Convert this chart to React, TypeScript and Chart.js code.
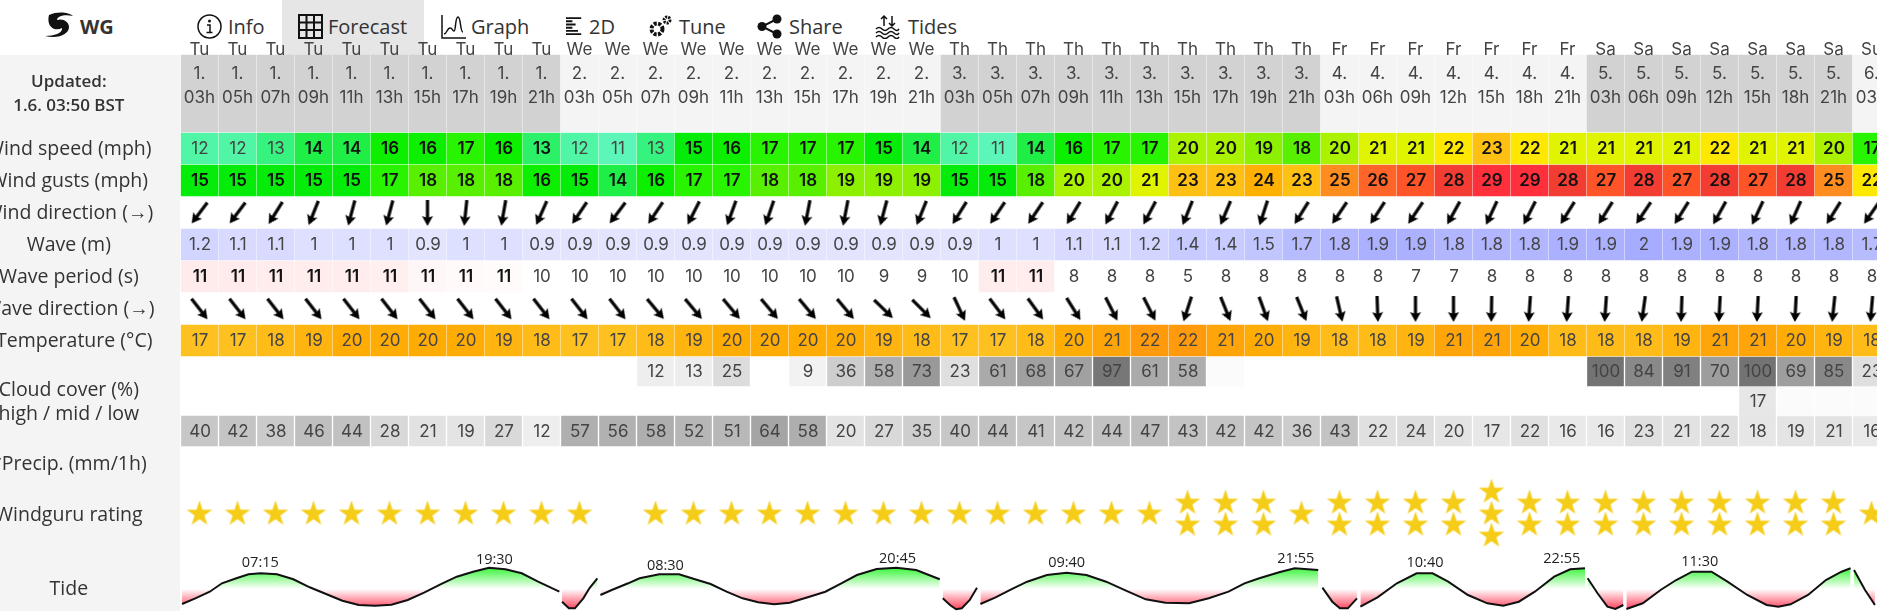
import React, { useEffect, useRef } from "react";
import { Chart, registerables } from "chart.js";

Chart.register(...registerables);

const days = ["Tu","Tu","Tu","Tu","Tu","Tu","Tu","Tu","Tu","Tu","We","We","We","We","We","We","We","We","We","We","Th","Th","Th","Th","Th","Th","Th","Th","Th","Th","Fr","Fr","Fr","Fr","Fr","Fr","Fr","Sa","Sa","Sa","Sa","Sa","Sa","Sa","Su"];
const dates = ["1.","1.","1.","1.","1.","1.","1.","1.","1.","1.","2.","2.","2.","2.","2.","2.","2.","2.","2.","2.","3.","3.","3.","3.","3.","3.","3.","3.","3.","3.","4.","4.","4.","4.","4.","4.","4.","5.","5.","5.","5.","5.","5.","5.","6."];
const hours = ["03h","05h","07h","09h","11h","13h","15h","17h","19h","21h","03h","05h","07h","09h","11h","13h","15h","17h","19h","21h","03h","05h","07h","09h","11h","13h","15h","17h","19h","21h","03h","06h","09h","12h","15h","18h","21h","03h","06h","09h","12h","15h","18h","21h","03h"];

const windSpeed = [12,12,13,14,14,16,16,17,16,13.4,12,11,13,15,16,17,17,17,15,14,12,11,14,16,17,17,20,20,19,18,20,21,21,22,23,22,21,21,21,21,22,21,21,20,17];
const windGusts = [15,15,15,15,15,17,18,18,18,16,15,14,16,17,17,18,18,19,19,19,15,15,18,20,20,21,23,23,24,23,25,26,27,28,29,29,28,27,28,27,28,27,28,25,22];
const windDirection = [217,217,212,202,195,195,180,186,190,204,214,217,214,207,200,199,191,191,195,202,212,214,214,211,208,208,202,203,198,212,214,213,214,209,205,207,212,212,214,212,209,205,204,212,215];
const waveHeight = [1.2,1.1,1.1,1,1,1,0.9,1,1,0.9,0.9,0.9,0.9,0.9,0.9,0.9,0.9,0.9,0.9,0.9,0.9,1,1,1.1,1.1,1.2,1.4,1.4,1.5,1.7,1.8,1.9,1.9,1.8,1.8,1.8,1.9,1.9,2,1.9,1.9,1.8,1.8,1.8,1.7];
const wavePeriod = [11.3,11.3,11.2,11.2,11.2,11.1,10.7,10.6,10.5,10.2,10.2,10.1,10.1,10,10,10,10,10,9,9,10,11.2,11.2,8,8,8,5,8,8,8,8,8,7,7,8,8,8,8,8,8,8,8,8,8,8];
const waveDirection = [142,142,142,142,142,142,142,142,142,142,142,142,140,140,140,140,140,140,134,135,155,143,144,148,153,153,198,158,160,158,167,178,180,180,181,184,184,184,188,182,183,183,183,186,185];
const temperature = [17,17,18,19,20,20,20,20,19,18,17,17,18,19,20,20,20,20,19,18,17,17,18,20,21,22,22,21,20,19,18,18,19,21,21,20,18,18,18,19,21,21,20,19,18];
const cloudHigh = [null,null,null,null,null,null,null,null,null,null,null,null,12,13,25,null,9,36,58,73,23,61,68,67,97,61,58,3,null,null,null,null,null,null,null,null,null,100,84,91,70,100,69,85,23];
const cloudMid = [null,null,null,null,null,null,null,null,null,null,null,null,null,null,null,null,null,null,null,null,null,null,null,null,null,null,null,null,null,null,null,null,null,null,null,null,null,null,null,null,null,17,3,3,3];
const cloudLow = [40,42,38,46,44,28,21,19,27,12,57,56,58,52,51,64,58,20,27,35,40,44,41,42,44,47,43,42,42,36,43,22,24,20,17,22,16,16,23,21,22,18,19,21,16];
const rating = [1,1,1,1,1,1,1,1,1,1,1,0,1,1,1,1,1,1,1,1,1,1,1,1,1,1,2,2,2,1,2,2,2,2,3,2,2,2,2,2,2,2,2,2,1];

const tideCols = [0.04,0.39,0.77,1.09,1.47,1.79,2.11,2.54,2.97,3.4,3.83,4.26,4.69,5.12,5.55,5.98,6.41,6.84,7.27,7.7,8.12,8.55,8.98,9.41,9.97,9.98,
  10.04,10.22,10.38,10.6,10.76,10.97,10.98,
  11.05,11.35,11.78,12.08,12.6,13.12,13.54,13.95,14.37,14.79,15.2,15.62,16.03,16.55,16.97,17.39,17.8,18.32,18.84,19.36,19.98,19.99,
  20.06,20.25,20.41,20.56,20.77,20.96,20.97,
  21.05,21.45,21.86,22.28,22.8,23.32,23.84,24.36,24.88,25.4,25.92,26.54,27.06,27.58,28,28.39,28.91,29.32,29.94,29.95,
  30.05,30.31,30.51,30.72,30.96,30.97,
  31.05,31.5,32.01,32.53,32.95,33.36,33.88,34.39,34.81,35.22,35.64,36.15,36.57,36.96,36.97,
  37.03,37.29,37.55,37.76,37.97,37.98,
  38.05,38.48,38.95,39.36,39.78,40.29,40.71,41.23,41.74,42.05,42.37,42.83,43.3,43.71,43.95,43.96,
  44.04,44.33,44.59];
const tideHeights = [-1.5,-0.93,-0.27,0.57,1.07,1.47,1.57,1.47,0.97,0.17,-0.5,-1.17,-1.6,-1.67,-1.57,-1.1,-0.37,0.47,1.23,1.73,2.13,1.97,1.57,0.73,-0.27,null,
  -1.27,-1.93,-1.93,-0.93,0.07,1.07,null,
  -0.6,-0.1,0.57,1.07,1.47,1.47,0.97,0.5,-0.27,-0.93,-1.33,-1.53,-1.37,-0.77,-0.27,0.57,1.4,2,2.13,1.9,0.97,null,
  -0.93,-1.6,-2.03,-1.93,-1.1,0.13,null,
  -1.5,-0.83,-0.03,0.73,1.4,1.63,1.4,0.73,-0.17,-1.03,-1.37,-1.43,-0.93,-0.27,0.57,1.07,1.67,2.07,1.9,null,
  0.13,-1.27,-1.93,-1.93,-0.93,null,
  -1.77,-0.83,0.57,1.57,1.57,0.73,-0.6,-1.43,-1.67,-1.27,-0.27,1.23,1.97,2.07,null,
  1.07,-0.43,-1.77,-2,-1.6,null,
  -2,-1.43,-0.1,0.9,1.73,1.73,0.73,-0.6,-1.6,-1.77,-1.53,-0.6,0.9,1.73,2.07,null,
  1.9,-0.1,-1.6];

const tideTimes = ["07:15","19:30","08:30","20:45","09:40","21:55","10:40","22:55","11:30"];
const tideTimeCols = [2.1,8.26,12.76,18.87,23.32,29.35,32.75,36.35,39.98];
const tideTimeHeights = [2.6,2.9,2.3,3.0,2.6,3.0,2.6,3.0,2.7];

const rowLabels: (string | string[])[] = [["Updated:","1.6. 03:50 BST"],"Wind speed (mph)","Wind gusts (mph)","Wind direction (→)","Wave (m)","Wave period (s)","Wave direction (→)","*Temperature (°C)",["Cloud cover (%)","high / mid / low"],"*Precip. (mm/1h)","Windguru rating","Tide"];
const rowLabelCentres = [94,149,181,213,245,277,309,341,402.5,464,515,589];

const navItems = ["Info","Forecast","Graph","2D","Tune","Share","Tides"];

// layout of the table, in page pixels
const band = { header:[55,132], speed:[133,164], gust:[165,196], wave:[229,260], period:[261,292], temp:[325,356], high:[357,386], mid:[386,416], low:[416,446] };
const windArrowY = 213, waveArrowY = 309, starY = 513.5, starStep = 22;
const TIDE_MID = 589, TIDE_PX = 10;

function ramp(stops: [number, number[]][], v: number) {
  if (v <= stops[0][0]) return `rgb(${stops[0][1].join(",")})`;
  for (let i = 1; i < stops.length; i++) {
    if (v <= stops[i][0]) {
      const [a, ca] = stops[i - 1], [b, cb] = stops[i];
      const t = (v - a) / (b - a);
      return `rgb(${ca.map((c, k) => Math.round(c + (cb[k] - c) * t)).join(",")})`;
    }
  }
  return `rgb(${stops[stops.length - 1][1].join(",")})`;
}
const windStops: [number, number[]][] = [[11,[92,247,184]],[12,[80,245,165]],[13,[54,243,127]],[14,[30,238,70]],[15,[6,236,10]],[16,[12,240,0]],[17,[40,244,0]],[18,[88,240,0]],[19,[140,240,0]],[20,[170,242,0]],[21,[224,244,0]],[22,[255,232,0]],[23,[255,192,20]],[24,[255,176,0]],[25,[255,140,30]],[26,[255,100,40]],[27,[255,83,40]],[28,[243,60,50]],[29,[255,47,60]]];
const waveStops: [number, number[]][] = [[0.9,[227,229,255]],[2,[166,172,255]]];
const tempStops: [number, number[]][] = [[17,[255,193,32]],[18,[255,187,24]],[19,[255,180,15]],[20,[255,173,5]],[21,[255,165,10]],[22,[255,154,12]]];
const grey = (v: number) => { const g = Math.round(255 - 1.4 * v); return `rgb(${g},${g},${g})`; };

function cells(values: (number | null)[], b: number[], color: (v: number, i: number) => string, text: (v: number, i: number) => string, bold: (v: number, i: number) => boolean, thickness = 37) {
  return {
    type: "bar",
    data: values.map((v) => (v == null ? null : [b[0], b[1]])),
    backgroundColor: values.map((v, i) => (v == null ? "transparent" : color(v, i))),
    cellText: values.map((v, i) => (v == null ? "" : text(v, i))),
    cellBold: values.map((v, i) => (v == null ? false : bold(v, i))),
    grouped: false,
    barThickness: thickness,
    order: 5,
    xAxisID: "x",
    yAxisID: "y",
  };
}

function arrowImage() {
  const c = document.createElement("canvas");
  c.width = 32; c.height = 32;
  const g = c.getContext("2d")!;
  g.fillStyle = "#000"; g.strokeStyle = "#000";
  g.lineWidth = 3.2;
  g.beginPath(); g.moveTo(16, 29); g.lineTo(16, 10); g.stroke();
  g.beginPath(); g.moveTo(16, 3); g.lineTo(21.5, 13); g.lineTo(16, 11); g.lineTo(10.5, 13); g.closePath(); g.fill();
  return c;
}
function starImage() {
  const c = document.createElement("canvas");
  c.width = 30; c.height = 30;
  const g = c.getContext("2d")!;
  g.fillStyle = "#f5cd18";
  g.beginPath();
  for (let k = 0; k < 10; k++) {
    const r = k % 2 ? 5.2 : 13.4;
    const a = -Math.PI / 2 + (k * Math.PI) / 5;
    const x = 15 + r * Math.cos(a), y = 15.5 + r * Math.sin(a);
    k ? g.lineTo(x, y) : g.moveTo(x, y);
  }
  g.closePath(); g.fill();
  return c;
}

const cellTextPlugin = {
  id: "cellText",
  afterDatasetsDraw(chart: any) {
    const ctx = chart.ctx;
    ctx.save();
    ctx.textAlign = "center";
    ctx.textBaseline = "middle";
    chart.data.datasets.forEach((ds: any, di: number) => {
      if (!ds.cellText) return;
      chart.getDatasetMeta(di).data.forEach((el: any, i: number) => {
        const t = ds.cellText[i];
        if (!t) return;
        ctx.font = `${ds.cellBold[i] ? 600 : 400} 17px Inter`;
        ctx.fillStyle = ds.cellBold[i] ? "#111" : "#444";
        ctx.fillText(t, el.x + 0.5, (el.y + el.base) / 2 + 0.5);
      });
    });
    const xc = chart.scales.xc, yt = chart.scales.yTide;
    ctx.font = "400 14.5px 'Open Sans'";
    ctx.fillStyle = "#222";
    tideTimes.forEach((t, i) => ctx.fillText(t, xc.getPixelForValue(tideTimeCols[i]), yt.getPixelForValue(tideTimeHeights[i])));
    ctx.restore();
  },
};

function Icon({ d, x, w = 25 }: { d: React.ReactNode; x: number; w?: number }) {
  return (
    <svg width={w} height={25} viewBox="0 0 25 25" style={{ position: "absolute", left: x, top: 14 }}>
      {d}
    </svg>
  );
}

const noPad = (s: any) => { s.paddingTop = 0; s.paddingBottom = 0; s.paddingLeft = 0; s.paddingRight = 0; };

export default function App() {
  const ref = useRef<HTMLCanvasElement>(null);
  useEffect(() => {
    const arrow = arrowImage();
    const star = starImage();
    const labels = days.map((d, i) => [d, dates[i], hours[i]]);
    const isDark = (d: string) => d === "Tu" || d === "Th" || d === "Sa";
    const headerValues = days.map((_, i) => i);
    const stars = rating.flatMap((n, i) =>
      Array.from({ length: n }, (_, k) => ({ x: i + 0.5, y: starY + (k - (n - 1) / 2) * starStep }))
    );
    const tide = tideCols.map((x, i) => ({ x, y: tideHeights[i] }));
    const chart = new Chart(ref.current!, {
      data: {
        labels,
        datasets: [
          cells(headerValues, band.header, (i) => (isDark(days[i]) ? "#d2d2d2" : "#f4f4f4"), () => "", () => false),
          cells(windSpeed, band.speed, (v) => ramp(windStops, v), (v) => String(Math.round(v)), (v) => v > 13.2),
          cells(windGusts, band.gust, (v) => ramp(windStops, v), (v) => String(v), () => true),
          cells(waveHeight, band.wave, (v) => ramp(waveStops, v), (v) => String(v), () => false),
          cells(wavePeriod, band.period, (v) => (v > 10.4 ? `rgb(255,${Math.round(255 - (v - 10.3) * 20)},${Math.round(255 - (v - 10.3) * 20)})` : "#fff"), (v) => String(Math.round(v)), (v) => v > 10.4),
          cells(temperature, band.temp, (v) => ramp(tempStops, v), (v) => String(v), () => false),
          cells(cloudHigh, band.high, grey, (v) => (v < 5 ? "" : String(v)), () => false, 36),
          cells(cloudMid, band.mid, grey, (v) => (v < 5 ? "" : String(v)), () => false, 36),
          cells(cloudLow, band.low, grey, (v) => String(v), () => false, 36),
          {
            type: "line", data: windDirection.map(() => windArrowY), showLine: false,
            pointStyle: arrow, pointRadius: 14, pointRotation: windDirection, order: 1, xAxisID: "x", yAxisID: "y",
          },
          {
            type: "line", data: waveDirection.map(() => waveArrowY), showLine: false,
            pointStyle: arrow, pointRadius: 14, pointRotation: waveDirection, order: 1, xAxisID: "x", yAxisID: "y",
          },
          {
            type: "scatter", data: stars, showLine: false, pointStyle: star, pointRadius: 14, order: 1, xAxisID: "xc", yAxisID: "y",
          },
          {
            type: "line", data: tide, parsing: { xAxisKey: "x", yAxisKey: "y" }, xAxisID: "xc", yAxisID: "yTide",
            borderColor: "#111", borderWidth: 2, pointRadius: 0, tension: 0, spanGaps: false, order: 2,
            fill: { value: 0 },
            backgroundColor: (c: any) => {
              const ch = c.chart;
              if (!ch.chartArea) return "transparent";
              const yt = ch.scales.yTide;
              const top = yt.getPixelForValue(2.2), bot = yt.getPixelForValue(-2.1);
              const g = ch.ctx.createLinearGradient(0, top, 0, bot);
              const mid = (yt.getPixelForValue(0) - top) / (bot - top);
              g.addColorStop(0, "#33f533");
              g.addColorStop(mid, "#ffffff");
              g.addColorStop(1, "#ff3a55");
              return g;
            },
          },
        ] as any,
      },
      options: {
        animation: false,
        responsive: false,
        events: [],
        layout: { autoPadding: false, padding: { left: 0, right: 0.5, top: 0, bottom: 0 } },
        plugins: { legend: { display: false }, tooltip: { enabled: false } },
        scales: {
          x: {
            type: "category", position: "top", offset: true,
            grid: { display: false, drawTicks: false }, border: { display: false },
            afterFit: (s: any) => { s.height = 0; noPad(s); },
            ticks: {
              z: 1, mirror: true, padding: -10, autoSkip: false, maxRotation: 0, minRotation: 0, crossAlign: "near",
              color: "#444", font: { family: "Inter", size: 17, lineHeight: "24px" },
            },
          },
          xc: { type: "linear", display: false, min: 0, max: 45 },
          y: {
            type: "linear", position: "left", min: 0, max: 611, reverse: true,
            grid: { display: false, drawTicks: false }, border: { display: false },
            afterFit: (s: any) => { s.width = 180.5; noPad(s); },
            afterBuildTicks: (s: any) => { s.ticks = rowLabelCentres.map((value) => ({ value })); },
            ticks: {
              z: 1, autoSkip: false, crossAlign: "center", padding: 26, color: "#333",
              callback: (v: any) => rowLabels[rowLabelCentres.indexOf(v)],
              font: (c: any) => ({ family: "'Open Sans'", size: c.index === 0 ? 17 : 19.5, lineHeight: "24px", weight: c.index === 0 ? 600 : 400 }),
            },
          },
          yTide: {
            type: "linear", display: false,
            min: (TIDE_MID - 611) / TIDE_PX, max: TIDE_MID / TIDE_PX,
          },
        },
      } as any,
      plugins: [cellTextPlugin],
    });
    return () => chart.destroy();
  }, []);

  const nav: React.CSSProperties = { position: "absolute", top: 13, fontFamily: "'Open Sans'", fontSize: 20, lineHeight: "28px", color: "#333" };
  const s = { fill: "none", stroke: "#111", strokeWidth: 1.5 };
  return (
    <div style={{ position: "fixed", left: 0, top: 0, width: 1877, height: 611, overflow: "hidden", background: "#fff" }}>
      <div style={{ position: "absolute", left: 0, top: 55, width: 180, height: 556, background: "#f4f4f4" }} />
      <div style={{ position: "absolute", left: 282, top: 0, width: 142, height: 55, background: "#e6e6e6" }} />
      <svg width={32} height={28} viewBox="0 0 32 28" style={{ position: "absolute", left: 43, top: 12 }}>
        <path d="M6 3 C14 -1 26 0 30 4 C22 2 14 4 14 8 C20 6 26 10 26 15 C26 22 16 27 2 24 C12 24 20 21 19 16 C12 20 3 15 6 3 Z" fill="#111" />
      </svg>
      <div style={{ ...nav, left: 80, fontWeight: 700, fontSize: 20 }}>WG</div>
      <Icon x={197} d={<><circle cx={12.5} cy={12.5} r={11.5} {...s} /><circle cx={12.5} cy={7} r={1.5} fill="#111" /><path d="M10 11h3v7M9.5 18.5h6" {...s} /></>} />
      <div style={{ ...nav, left: 228 }}>{navItems[0]}</div>
      <Icon x={298} d={<path d="M1 1h23v23H1zM1 8.5h23M1 16h23M8.5 1v23M16 1v23" {...s} strokeWidth={2} />} />
      <div style={{ ...nav, left: 328 }}>{navItems[1]}</div>
      <Icon x={441} d={<path d="M1 1v23h24M3 20c3 0 3-6 6-6s2 3 4 3 1-14 4-14 2 15 5 15" {...s} />} />
      <div style={{ ...nav, left: 471 }}>{navItems[2]}</div>
      <Icon x={566} w={20} d={<path d="M0 2h19M0 6h8M0 10h12M0 14h8M0 18h15M0 22h19" stroke="#111" strokeWidth={2.4} fill="none" />} />
      <div style={{ ...nav, left: 589 }}>{navItems[3]}</div>
      <Icon x={648} d={<><circle cx={9} cy={15} r={5.5} fill="none" stroke="#111" strokeWidth={4} strokeDasharray="3 1.4" /><circle cx={19} cy={6} r={3} fill="none" stroke="#111" strokeWidth={3} strokeDasharray="2 1" /></>} />
      <div style={{ ...nav, left: 679 }}>{navItems[4]}</div>
      <Icon x={757} d={<><circle cx={20} cy={5} r={4.5} fill="#111" /><circle cx={20} cy={20} r={4.5} fill="#111" /><circle cx={5} cy={12.5} r={4.5} fill="#111" /><path d="M20 5L5 12.5L20 20" stroke="#111" strokeWidth={2} fill="none" /></>} />
      <div style={{ ...nav, left: 789 }}>{navItems[5]}</div>
      <Icon x={875} d={<path d="M9 2v10M6 5l3-3 3 3M17 12V2M14 9l3 3 3-3M1 15q3-3 6 0t6 0 6 0 5 0M1 19q3-3 6 0t6 0 6 0 5 0M1 23q3-3 6 0t6 0 6 0 5 0" {...s} />} />
      <div style={{ ...nav, left: 908 }}>{navItems[6]}</div>
      <canvas ref={ref} width={1891} height={611} style={{ position: "absolute", left: 0, top: 0, width: 1891, height: 611, display: "block" }} />
    </div>
  );
}
